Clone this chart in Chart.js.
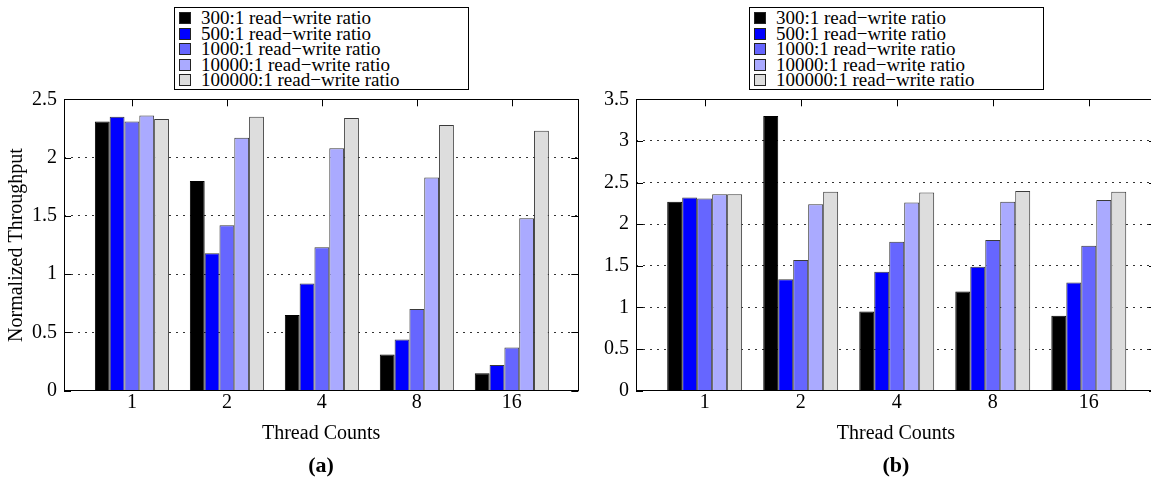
<!DOCTYPE html>
<html>
<head>
<meta charset="utf-8">
<title>Normalized Throughput by Thread Counts</title>
<script src="https://cdn.jsdelivr.net/npm/chart.js@4.4.1/dist/chart.umd.min.js"></script>
<style>
    html, body { margin: 0; padding: 0; background: #fff; overflow: hidden; }
    body { width: 1151px; height: 482px; position: relative; font-family: "Liberation Serif", "Times New Roman", serif; color: #000; }
    canvas { position: absolute; top: 0; }
    #chart-a { left: 0; }
    #chart-b { left: 600px; }
    .legend { position: absolute; top: 7px; width: 295px; height: 83px; border: 1px solid #000; box-sizing: border-box; background: #fff; }
    .legend .row { position: absolute; left: 0; right: 0; height: 15.6px; line-height: 15.6px; font-size: 19px; white-space: nowrap; }
    .legend .swatch { position: absolute; left: 4px; top: 2px; width: 12px; height: 12px; box-sizing: border-box; border: 1px solid #222; }
    .legend .text { position: absolute; left: 26px; top: 0; }
    .caption { position: absolute; top: 452px; width: 100px; text-align: center; font-weight: bold; font-size: 22px; line-height: 26px; }
</style>
</head>
<body>
<canvas id="chart-a" width="600" height="482"></canvas>
<canvas id="chart-b" width="580" height="482"></canvas>
<div id="legend-a" class="legend" style="left:174px"></div>
<div id="legend-b" class="legend" style="left:749px"></div>
<div class="caption" style="left:271px">(a)</div>
<div class="caption" style="left:846px">(b)</div>

<script>
// x categories
const threadCounts = ['1', '2', '4', '8', '16'];
const ratioLabels = [
    '300:1 read\u2212write ratio',
    '500:1 read\u2212write ratio',
    '1000:1 read\u2212write ratio',
    '10000:1 read\u2212write ratio',
    '100000:1 read\u2212write ratio'
];
const barColors = ['#000000', '#0000ff', '#6666ff', '#aaaaff', '#dddddd'];

// (a) normalized throughput
const a300 = [2.31, 1.80, 0.65, 0.31, 0.15];
const a500 = [2.35, 1.18, 0.92, 0.44, 0.22];
const a1000 = [2.31, 1.42, 1.23, 0.70, 0.37];
const a10000 = [2.36, 2.17, 2.08, 1.83, 1.48];
const a100000 = [2.33, 2.35, 2.34, 2.28, 2.23];

// (b) normalized throughput
const b300 = [2.27, 3.30, 0.95, 1.19, 0.90];
const b500 = [2.32, 1.34, 1.43, 1.49, 1.30];
const b1000 = [2.31, 1.57, 1.79, 1.81, 1.74];
const b10000 = [2.36, 2.24, 2.26, 2.27, 2.29];
const b100000 = [2.36, 2.39, 2.38, 2.40, 2.39];

const yMaxA = 2.5;
const yMaxB = 3.5;

const font = { family: "'Liberation Serif', 'Times New Roman', serif", size: 20 };

// gnuplot style box: frame on top, inward tick marks
const framePlugin = {
    id: 'frame',
    beforeDatasetsDraw(chart) {
        const { ctx, chartArea: a, scales: { x, y } } = chart;
        ctx.save();
        ctx.strokeStyle = '#000';
        ctx.lineWidth = 1;
        ctx.beginPath();
        y.ticks.forEach(t => {
            const py = Math.round(y.getPixelForValue(t.value)) + 0.5;
            ctx.moveTo(a.left, py); ctx.lineTo(a.left + 7, py);
            ctx.moveTo(a.right, py); ctx.lineTo(a.right - 7, py);
        });
        x.ticks.forEach(t => {
            const px = Math.round(x.getPixelForValue(t.value)) + 0.5;
            ctx.moveTo(px, a.top); ctx.lineTo(px, a.top + 7);
            ctx.moveTo(px, a.bottom); ctx.lineTo(px, a.bottom - 7);
        });
        ctx.stroke();
        ctx.restore();
    },
    afterDatasetsDraw(chart) {
        const { ctx, chartArea: a } = chart;
        ctx.save();
        ctx.strokeStyle = '#000';
        ctx.lineWidth = 1;
        ctx.strokeRect(Math.round(a.left) + 0.5, Math.round(a.top) + 0.5,
            Math.round(a.right - a.left), Math.round(a.bottom - a.top));
        ctx.restore();
    }
};

function makeChart(id, series, yMax, axisWidth, padRight, yTitle) {
    return new Chart(document.getElementById(id), {
        type: 'bar',
        data: {
            datasets: series.map((vals, i) => ({
                label: ratioLabels[i],
                data: vals.map((v, j) => ({ x: j + 1, y: v })),
                backgroundColor: barColors[i],
                borderColor: i === 0 ? '#000' : '#3a3a3a',
                borderWidth: 1,
                categoryPercentage: 0.78,
                barPercentage: 1.0
            }))
        },
        options: {
            responsive: false,
            animation: false,
            layout: { padding: { left: 0, top: 99.3, right: padRight, bottom: 0 } },
            plugins: { legend: { display: false }, tooltip: { enabled: false } },
            scales: {
                x: {
                    type: 'linear',
                    offset: false,
                    min: 0.285,
                    max: 5.7,
                    afterBuildTicks: s => { s.ticks = threadCounts.map((t, j) => ({ value: j + 1 })); },
                    ticks: {
                        callback: (v, j) => threadCounts[j],
                        font: font, color: '#000', padding: 0,
                        maxRotation: 0, autoSkip: false
                    },
                    grid: { display: false, drawTicks: false },
                    border: { display: false },
                    title: {
                        display: true, text: 'Thread Counts', font: font, color: '#000',
                        padding: { top: 0, bottom: 36 }
                    },
                    afterFit: s => { s.height = 91.3; }
                },
                y: {
                    min: 0,
                    max: yMax,
                    ticks: { stepSize: 0.5, font: font, color: '#000', padding: 7, callback: v => String(v) },
                    grid: {
                        drawTicks: false,
                        lineWidth: 1,
                        borderDash: [2, 5],
                        color: c => (c.tick.value === 0 || c.tick.value === yMax) ? 'rgba(0,0,0,0)' : '#333'
                    },
                    border: { display: false, dash: [2, 5] },
                    title: yTitle
                        ? { display: true, text: yTitle, font: font, color: '#000', padding: { top: 4.5, bottom: 0 } }
                        : { display: false },
                    afterFit: s => { s.width = axisWidth; }
                }
            }
        },
        plugins: [framePlugin]
    });
}

function buildLegend(id) {
    const box = document.getElementById(id);
    ratioLabels.forEach((label, i) => {
        const row = document.createElement('div');
        row.className = 'row';
        row.style.top = (2 + i * 15.6) + 'px';
        row.innerHTML = `<span class="swatch" style="background:${barColors[i]}"></span><span class="text">${label}</span>`;
        box.appendChild(row);
    });
}

makeChart('chart-a', [a300, a500, a1000, a10000, a100000], yMaxA, 64, 21.7, 'Normalized Throughput');
makeChart('chart-b', [b300, b500, b1000, b10000, b100000], yMaxB, 36, 24, null);
buildLegend('legend-a');
buildLegend('legend-b');
</script>
</body>
</html>
